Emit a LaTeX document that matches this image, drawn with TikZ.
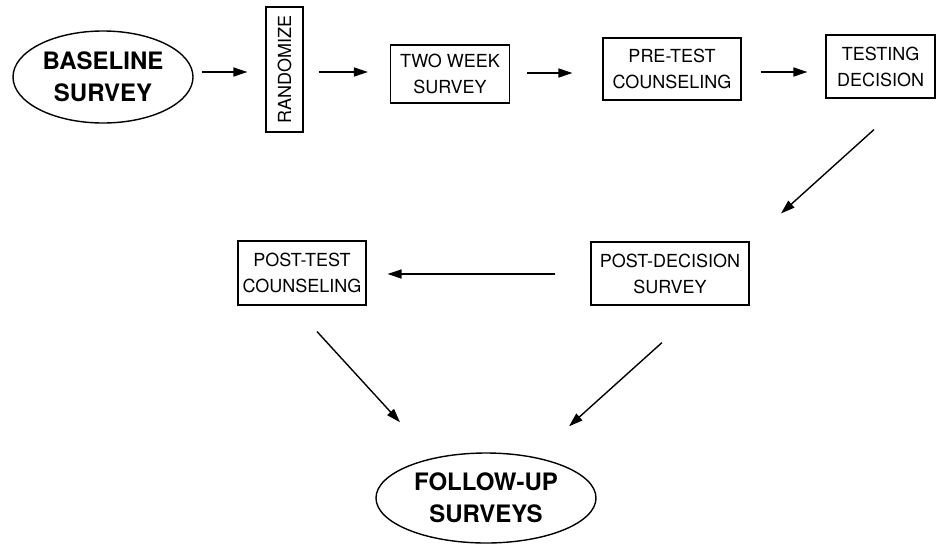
\documentclass[tikz,border=0pt]{standalone}
\usepackage{fontspec}
\setmainfont{TeX Gyre Heros}
\usetikzlibrary{shapes.geometric,arrows.meta,calc}
\tikzset{
  boxnode/.style={draw, line width=1.1pt, inner sep=0pt, align=center,
    font=\fontsize{18}{26}\selectfont},
  ovalnode/.style={draw, ellipse, line width=1.4pt, inner sep=0pt, align=center,
    font=\fontsize{24}{32}\selectfont\bfseries},
  arr/.style={line width=1.4pt, -{Triangle[length=14pt,width=9pt]}}
}
\begin{document}
\begin{tikzpicture}[x=1pt,y=-1pt]
\useasboundingbox (0,0) rectangle (941,546);
\node[ovalnode, minimum width=180pt, minimum height=92pt] (base) at (103,77) {BASELINE\\SURVEY};
\node[boxnode, minimum width=37pt, minimum height=125pt] (rand) at (284.5,69.5) {\rotatebox{90}{RANDOMIZE}};
\node[boxnode, minimum width=119pt, minimum height=58pt] (two) at (450,74) {TWO WEEK\\SURVEY};
\node[boxnode, minimum width=138pt, minimum height=62pt] (pre) at (672,69) {PRE-TEST\\COUNSELING};
\node[boxnode, minimum width=109pt, minimum height=63pt] (test) at (880.5,66.5) {TESTING\\DECISION};
\node[boxnode, minimum width=158pt, minimum height=63pt] (postdec) at (670,273.5) {POST-DECISION\\SURVEY};
\node[boxnode, minimum width=128pt, minimum height=64pt] (posttest) at (302,273) {POST-TEST\\COUNSELING};
\node[ovalnode, minimum width=220pt, minimum height=90pt] (follow) at (486,498) {FOLLOW-UP\\SURVEYS};

\draw[arr] ($(base.east)+(8,-5)$) -- ($(rand.west)+(-18,2.5)$);
\draw[arr] ($(rand.east)+(15,2.5)$) -- ($(two.west)+(-22,-2)$);
\draw[arr] ($(two.east)+(17,-1)$) -- ($(pre.west)+(-30,4)$);
\draw[arr] ($(pre.east)+(19,3)$) -- ($(test.west)+(-18,5.5)$);
\draw[arr] ($(test.south)+(-6.5,31)$) -- ($(postdec.north)+(111,-28)$);
\draw[arr] ($(postdec.west)+(-35,0.5)$) -- ($(posttest.east)+(21,1)$);
\draw[arr] ($(posttest.south)+(15,26)$) -- ($(follow.north)+(-86,-30)$);
\draw[arr] ($(postdec.south)+(-8,37)$) -- ($(follow.north)+(83,-26)$);
\end{tikzpicture}
\end{document}
